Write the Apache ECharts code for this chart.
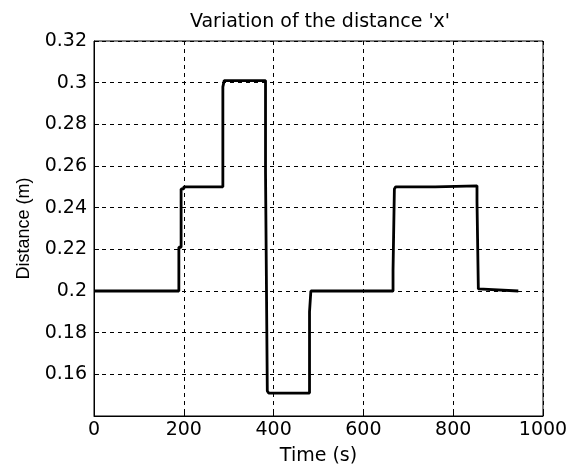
<!DOCTYPE html>
<html>
<head>
<meta charset="utf-8">
<script src="https://cdn.jsdelivr.net/npm/echarts@6/dist/echarts.min.js"></script>
<style>
  html, body { margin: 0; padding: 0; background: #fff; }
  #chart { width: 571px; height: 468px; }
</style>
</head>
<body>
<div id="chart"></div>
<script>
// step response: time (s) and distance (m)
var times  = [0, 189, 189, 194, 194, 200, 200, 287, 287, 290, 290, 382, 382, 386, 386, 389, 389,
              480, 480, 483, 483, 666, 666, 669, 669, 672, 760, 760, 853, 853, 856, 856, 945];
var values = [0.2, 0.2, 0.221, 0.221, 0.249, 0.249, 0.25, 0.25, 0.298, 0.298, 0.301, 0.301, 0.257, 0.257, 0.152, 0.152, 0.151,
              0.151, 0.19, 0.19, 0.2, 0.2, 0.21, 0.21, 0.249, 0.25, 0.25, 0.2505, 0.2505, 0.243, 0.243, 0.201, 0.2];
var xTicks = [0, 200, 400, 600, 800, 1000];
var yTicks = [0.14, 0.16, 0.18, 0.2, 0.22, 0.24, 0.26, 0.28, 0.3, 0.32];

// the scan is stretched sideways, so a wider face is used for horizontal text
var wideFont = 'DejaVu Sans';
var font = 'Liberation Sans';

window.onload = function() {
    var ec = echarts.init(document.getElementById('chart'));
    var pts = times.map(function(t, i) { return [t, values[i]]; });
    var gridLine = { show: true, lineStyle: { color: '#000', width: 1, type: [4, 4] } };
    ec.setOption({
        animation: false,
        title: {
            text: "Variation of the distance 'x'",
            left: 315, top: 8, textAlign: 'center',
            textStyle: { color: '#000', fontSize: 19, fontWeight: 'normal', fontFamily: wideFont }
        },
        grid: {
            left: 94, right: 28, top: 41, bottom: 52,
            outerBoundsMode: 'none', containLabel: false,
            show: true, borderColor: '#000', borderWidth: 1, backgroundColor: '#fff'
        },
        xAxis: {
            type: 'value',
            min: xTicks[0], max: xTicks[xTicks.length - 1], interval: 200,
            name: 'Time (s)', nameLocation: 'middle', nameGap: 31,
            nameTextStyle: { color: '#000', fontSize: 19, fontFamily: wideFont },
            axisLine: { show: true, lineStyle: { color: '#000', width: 1 } },
            axisTick: { show: true, inside: true, length: 5, lineStyle: { color: '#000' } },
            axisLabel: {
                color: '#000', fontSize: 19, fontFamily: wideFont, margin: 5,
                formatter: function(v) { return String(v); }
            },
            splitLine: gridLine
        },
        yAxis: {
            type: 'value',
            min: yTicks[0], max: yTicks[yTicks.length - 1], interval: 0.02,
            name: 'Distance (m)', nameLocation: 'middle', nameGap: 61, nameRotate: 90,
            nameTextStyle: { color: '#000', fontSize: 18, fontFamily: font },
            axisLine: { show: true, lineStyle: { color: '#000', width: 1 } },
            axisTick: { show: true, inside: true, length: 5, lineStyle: { color: '#000' } },
            axisLabel: {
                color: '#000', fontSize: 19, fontFamily: wideFont, margin: 7,
                formatter: function(v) {
                    if (Math.abs(v - yTicks[0]) < 1e-9) return '';
                    return String(+v.toFixed(2));
                }
            },
            splitLine: gridLine
        },
        series: [{
            type: 'line',
            data: pts,
            showSymbol: false,
            lineStyle: { color: '#000', width: 2.8 }
        }]
    });
};
</script>
</body>
</html>
